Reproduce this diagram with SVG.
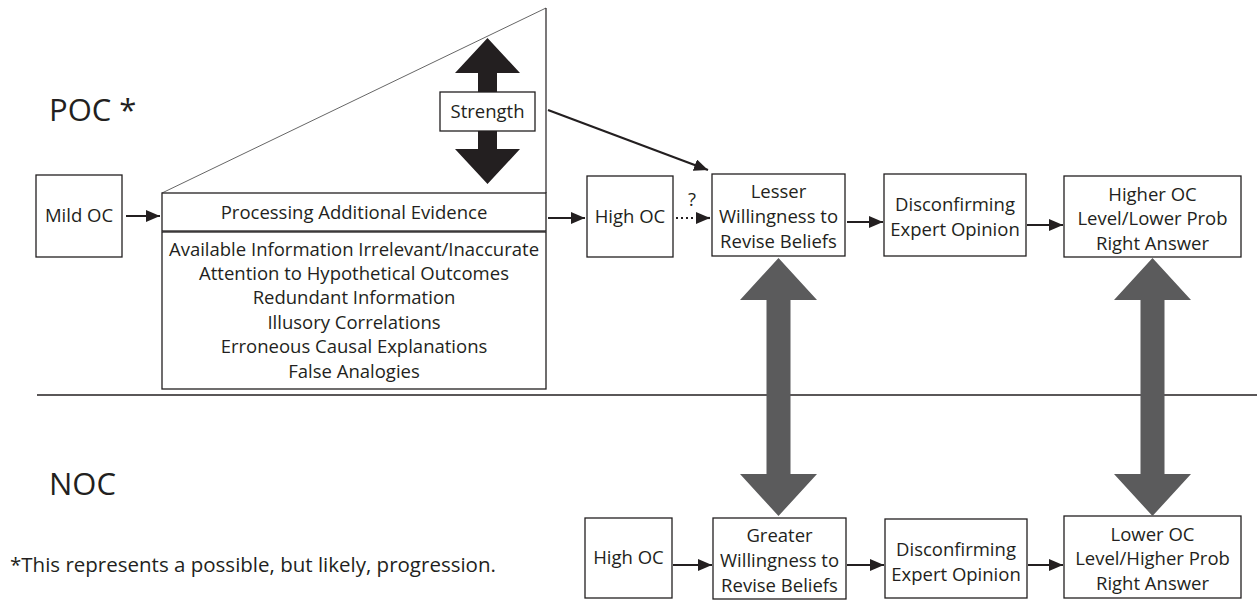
<svg xmlns="http://www.w3.org/2000/svg" width="1257" height="601" viewBox="0 0 1257 601">
<style>
  .box { fill: #ffffff; stroke: #231f20; stroke-width: 1.3; }
  .t { font-family: "Open Sans", "Liberation Sans", sans-serif; font-size: 18.5px; fill: #231f20; text-anchor: middle; }
  .big { font-family: "Open Sans", "Liberation Sans", sans-serif; font-size: 31px; fill: #231f20; }
  .note { font-family: "Open Sans", "Liberation Sans", sans-serif; font-size: 20.5px; fill: #231f20; }
  .conn { stroke: #231f20; stroke-width: 2.2; fill: none; }
  .gray { fill: #5b5b5c; }
</style>
<defs>
  <marker id="ah" markerUnits="userSpaceOnUse" markerWidth="15" markerHeight="12" refX="14" refY="6" orient="auto">
    <path d="M0,0 L14,6 L0,12 z" fill="#231f20"/>
  </marker>
</defs>

<!-- section labels -->
<text class="big" x="49" y="121">POC *</text>
<text class="big" x="49" y="495">NOC</text>
<text class="note" x="10" y="572">*This represents a possible, but likely, progression.</text>

<!-- separator -->
<line x1="37" y1="395" x2="1257" y2="395" stroke="#231f20" stroke-width="1.5"/>

<!-- triangle (strength wedge) -->
<g id="wedge">
  <line x1="162" y1="193" x2="546" y2="8" stroke="#555555" stroke-width="0.9"/>
  <line x1="546" y1="8" x2="546" y2="193" stroke="#231f20" stroke-width="1.2"/>
</g>

<!-- strength double arrow -->
<g id="strength">
  <polygon points="487.5,38 520,73 497,73 497,149 520,149 487.5,184 455,149 478,149 478,73 455,73" fill="#231f20"/>
  <rect class="box" x="440" y="92" width="95" height="39"/>
  <text class="t" x="487.5" y="118">Strength</text>
</g>

<g id="mild-oc">
  <rect class="box" x="36" y="175" width="86" height="82"/>
  <text class="t" x="79" y="222">Mild OC</text>
</g>

<g id="processing">
  <rect class="box" x="162" y="193" width="384" height="38"/>
  <text class="t" x="354" y="219">Processing Additional Evidence</text>
</g>

<g id="factors">
  <rect class="box" x="162" y="232" width="384" height="157"/>
  <text class="t" x="354" y="256">Available Information Irrelevant/Inaccurate</text>
  <text class="t" x="354" y="280">Attention to Hypothetical Outcomes</text>
  <text class="t" x="354" y="304">Redundant Information</text>
  <text class="t" x="354" y="329">Illusory Correlations</text>
  <text class="t" x="354" y="353">Erroneous Causal Explanations</text>
  <text class="t" x="354" y="378">False Analogies</text>
</g>

<g id="high-oc-top">
  <rect class="box" x="587" y="176" width="86" height="81"/>
  <text class="t" x="630" y="223">High OC</text>
</g>

<g id="lesser">
  <rect class="box" x="712" y="174" width="133" height="82"/>
  <text class="t" x="778.5" y="198">Lesser</text>
  <text class="t" x="778.5" y="223">Willingness to</text>
  <text class="t" x="778.5" y="248">Revise Beliefs</text>
</g>

<g id="disconfirming-top">
  <rect class="box" x="884" y="174" width="142" height="82"/>
  <text class="t" x="955" y="211">Disconfirming</text>
  <text class="t" x="955" y="236">Expert Opinion</text>
</g>

<g id="higher-oc">
  <rect class="box" x="1064" y="176" width="177" height="81"/>
  <text class="t" x="1152.5" y="201">Higher OC</text>
  <text class="t" x="1152.5" y="225">Level/Lower Prob</text>
  <text class="t" x="1152.5" y="250">Right Answer</text>
</g>

<g id="high-oc-bottom">
  <rect class="box" x="585" y="518" width="87" height="80"/>
  <text class="t" x="628.5" y="564">High OC</text>
</g>

<g id="greater">
  <rect class="box" x="713" y="518" width="133" height="81"/>
  <text class="t" x="779.5" y="542">Greater</text>
  <text class="t" x="779.5" y="567">Willingness to</text>
  <text class="t" x="779.5" y="592">Revise Beliefs</text>
</g>

<g id="disconfirming-bottom">
  <rect class="box" x="885" y="519" width="142" height="79"/>
  <text class="t" x="956" y="556">Disconfirming</text>
  <text class="t" x="956" y="581">Expert Opinion</text>
</g>

<g id="lower-oc">
  <rect class="box" x="1064" y="516" width="177" height="82"/>
  <text class="t" x="1152.5" y="541">Lower OC</text>
  <text class="t" x="1152.5" y="565">Level/Higher Prob</text>
  <text class="t" x="1152.5" y="590">Right Answer</text>
</g>

<g id="connectors">
  <line class="conn" x1="126" y1="216" x2="160" y2="216" marker-end="url(#ah)"/>
  <line class="conn" x1="548" y1="218" x2="585" y2="218" marker-end="url(#ah)"/>
  <line class="conn" x1="676" y1="218" x2="697" y2="218" stroke-dasharray="2 3"/>
  <line class="conn" x1="697" y1="218" x2="710" y2="218" marker-end="url(#ah)"/>
  <text class="t" x="692" y="206">?</text>
  <line class="conn" x1="548" y1="110" x2="708" y2="170" marker-end="url(#ah)"/>
  <line class="conn" x1="847" y1="222" x2="883" y2="222" marker-end="url(#ah)"/>
  <line class="conn" x1="1027" y1="225" x2="1063" y2="225" marker-end="url(#ah)"/>
  <line class="conn" x1="673" y1="565" x2="712" y2="565" marker-end="url(#ah)"/>
  <line class="conn" x1="847" y1="565" x2="884" y2="565" marker-end="url(#ah)"/>
  <line class="conn" x1="1028" y1="565" x2="1063" y2="565" marker-end="url(#ah)"/>
  <polygon class="gray" points="778.5,258 817,300 790.5,300 790.5,474 817,474 778.5,516 740,474 766.5,474 766.5,300 740,300"/>
  <polygon class="gray" points="1152.5,258 1191,300 1164.5,300 1164.5,474 1191,474 1152.5,516 1114,474 1140.5,474 1140.5,300 1114,300"/>
</g>
</svg>
